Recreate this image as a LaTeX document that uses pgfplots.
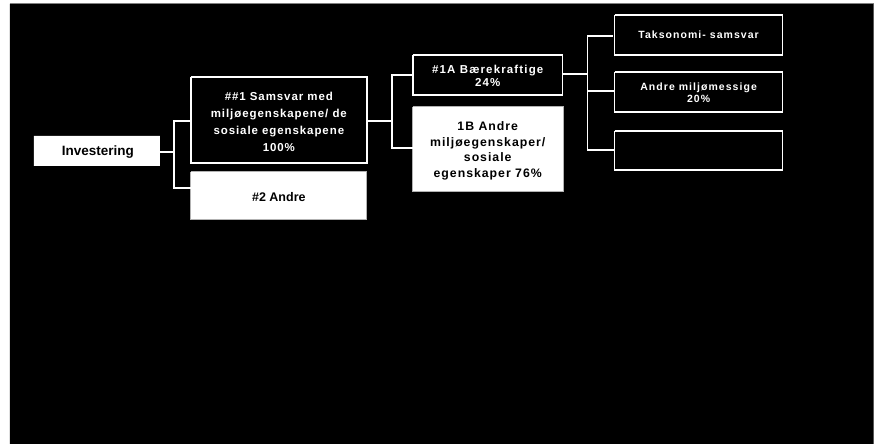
\documentclass[border=0pt]{standalone}
\usepackage{pgfplots}
\pgfplotsset{compat=1.18}
\usepackage{fontspec}
\setmainfont{Liberation Sans}
\newfontfamily\wide[LetterSpace=8]{Liberation Sans}
\newfontfamily\wider[LetterSpace=10]{Liberation Sans}
\begin{document}
\begin{tikzpicture}
\begin{axis}[x=1pt, y=1pt, y dir=reverse, xmin=0, xmax=874, ymin=0, ymax=444,
  hide axis, clip=false, scale only axis]
% background
\addplot[fill=white, draw=none] coordinates {(0,0) (874,0) (874,444) (0,444) (0,0)};
\addplot[fill=black, draw=none] coordinates {(10,4) (874,4) (874,444) (10,444) (10,4)};
\addplot[gray, line width=1pt] coordinates {(10,4) (874,4)};
% boxes
\addplot[fill=white, draw=none] coordinates {(34,136) (160,136) (160,166) (34,166) (34,136)};
\addplot[fill=black, draw=white, line width=1.5pt] coordinates {(191,77) (367,77) (367,163) (191,163) (191,77)};
\addplot[fill=white, draw=gray!60, line width=1pt] coordinates {(191,172) (367,172) (367,220) (191,220) (191,172)};
\addplot[fill=black, draw=white, line width=1.5pt] coordinates {(413,55) (563,55) (563,95) (413,95) (413,55)};
\addplot[fill=white, draw=gray!60, line width=1pt] coordinates {(413,107) (564,107) (564,192) (413,192) (413,107)};
\addplot[fill=black, draw=white, line width=1.5pt] coordinates {(615,15) (783,15) (783,55) (615,55) (615,15)};
\addplot[fill=black, draw=white, line width=1.5pt] coordinates {(615,72) (783,72) (783,112) (615,112) (615,72)};
\addplot[fill=black, draw=white, line width=1.5pt] coordinates {(615,131) (783,131) (783,170) (615,170) (615,131)};
% connectors
\addplot[white, line width=1.5pt] coordinates {(160,152) (174,152)};
\addplot[white, line width=1.5pt] coordinates {(191,121) (174,121) (174,188) (191,188)};
\addplot[white, line width=1.5pt] coordinates {(367,121) (392,121)};
\addplot[white, line width=1.5pt] coordinates {(413,75) (392,75) (392,148) (413,148)};
\addplot[white, line width=1.5pt] coordinates {(563,74) (588,74)};
\addplot[white, line width=1.5pt] coordinates {(613,36) (588,36) (588,150) (615,150)};
\addplot[white, line width=1.5pt] coordinates {(588,91) (615,91)};
% texts
\node[font=\fontsize{13.5}{15}\selectfont\bfseries, text=black] at (axis cs:98,152) {Investering};
\node[font=\wide\fontsize{11.5}{17}\selectfont\bfseries, text=white, align=center] at (axis cs:279,122)
  {\#\#1 Samsvar med\\miljøegenskapene/ de\\sosiale egenskapene\\100\%};
\node[font=\fontsize{12.5}{14}\selectfont\bfseries, text=black] at (axis cs:279,197) {\#2 Andre};
\node[font=\wider\fontsize{11.5}{13}\selectfont\bfseries, text=white, align=center] at (axis cs:488,76)
  {\#1A Bærekraftige\\24\%};
\node[font=\wide\fontsize{12.3}{15.5}\selectfont\bfseries, text=black, align=center] at (axis cs:488,151)
  {1B Andre\\miljøegenskaper/\\sosiale\\egenskaper 76\%};
\node[font=\wider\fontsize{10.5}{12}\selectfont\bfseries, text=white] at (axis cs:699,35) {Taksonomi- samsvar};
\node[font=\wider\fontsize{10.5}{12}\selectfont\bfseries, text=white, align=center] at (axis cs:699,93)
  {Andre miljømessige\\20\%};
\end{axis}
\end{tikzpicture}
\end{document}
